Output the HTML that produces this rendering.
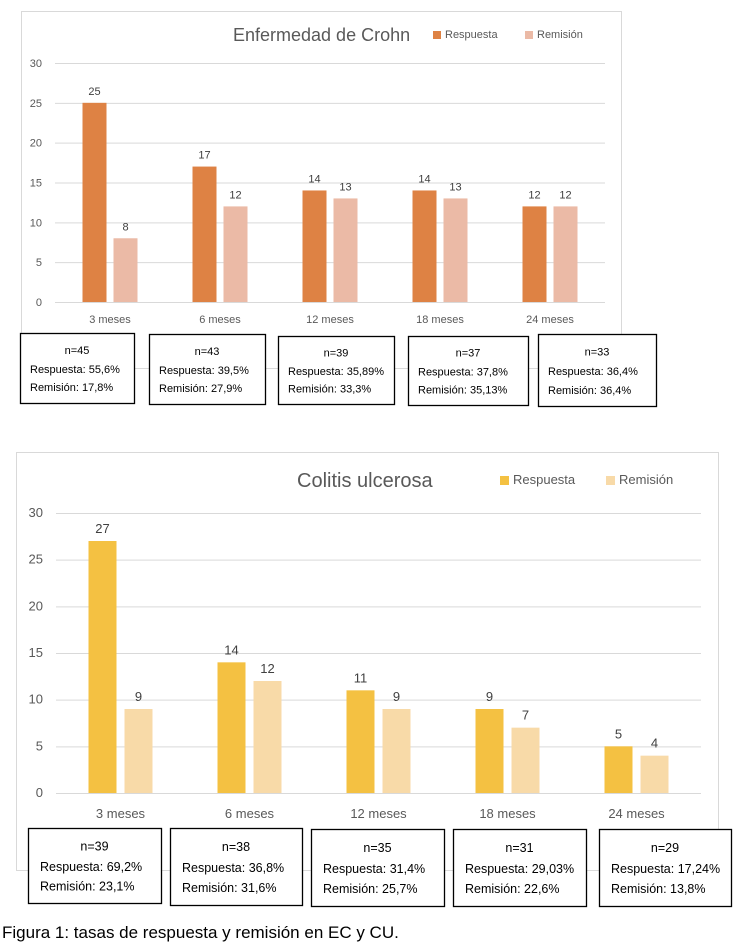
<!DOCTYPE html>
<html><head><meta charset="utf-8">
<style>
html,body{margin:0;padding:0;background:#fff;}
body{width:750px;height:944px;position:relative;overflow:hidden;font-family:"Liberation Sans",sans-serif;}
svg{position:absolute;left:0;top:0;}
</style></head>
<body>
<svg id="fig" width="750" height="944" viewBox="0 0 750 944"></svg>
<script>
const categories = ["3 meses","6 meses","12 meses","18 meses","24 meses"];
const ecRespuesta = [25,17,14,14,12];
const ecRemision = [8,12,13,13,12];
const cuRespuesta = [27,14,11,9,5];
const cuRemision = [9,12,9,7,4];
const yTicks = [0,5,10,15,20,25,30];
const ecBoxN = ["n=45","n=43","n=39","n=37","n=33"];
const ecBoxResp = ["Respuesta: 55,6%","Respuesta: 39,5%","Respuesta: 35,89%","Respuesta: 37,8%","Respuesta: 36,4%"];
const ecBoxRem = ["Remisión: 17,8%","Remisión: 27,9%","Remisión: 33,3%","Remisión: 35,13%","Remisión: 36,4%"];
const cuBoxN = ["n=39","n=38","n=35","n=31","n=29"];
const cuBoxResp = ["Respuesta: 69,2%","Respuesta: 36,8%","Respuesta: 31,4%","Respuesta: 29,03%","Respuesta: 17,24%"];
const cuBoxRem = ["Remisión: 23,1%","Remisión: 31,6%","Remisión: 25,7%","Remisión: 22,6%","Remisión: 13,8%"];

const NS="http://www.w3.org/2000/svg";
const svg=document.getElementById('fig');
function mk(tag,attrs,parent){const e=document.createElementNS(NS,tag);for(const k in attrs)e.setAttribute(k,attrs[k]);(parent||svg).appendChild(e);return e;}
function txt(s,attrs,parent){const e=mk('text',attrs,parent);e.textContent=s;return e;}

function chart(cfg){
  const g=mk('g',{});
  
  
  const fr=mk('rect',{x:cfg.frame[0]+.5,y:cfg.frame[1]+.5,width:cfg.frame[2],height:cfg.frame[3],fill:'#fff',stroke:'#d9d9d9','stroke-width':1},g);
  
  
  const y=v=>cfg.y0+(cfg.y30-cfg.y0)*v/30;
  const band=(cfg.x1-cfg.x0)/categories.length;
  const xc=i=>cfg.x0+band*(i+0.5);
  yTicks.forEach(t=>{
    const l=mk('line',{x1:cfg.x0,x2:cfg.x1,y1:y(t)+.5,y2:y(t)+.5,stroke:'#d9d9d9','stroke-width':1},g);
    
    
    const tl=txt(String(t),{x:cfg.tickX,y:y(t)+4,'text-anchor':'end','font-size':cfg.fs,fill:'#595959'},g);
    
    
  });
  categories.forEach((c,i)=>{
    const vals=[cfg.resp[i],cfg.rem[i]];
    const cols=[cfg.c1,cfg.c2];
    vals.forEach((v,j)=>{
      const bx=j===0? xc(i)-cfg.gap/2-cfg.bw : xc(i)+cfg.gap/2;
      const b=mk('rect',{x:bx,y:y(v),width:cfg.bw,height:y(0)-y(v),fill:cols[j]},g);
      
      
      const lb=txt(String(v),{x:bx+cfg.bw/2,y:y(v)-8,'text-anchor':'middle','font-size':cfg.fs,fill:'#404040'},g);
      
      
    });
    const cl=txt(c,{x:xc(i),y:cfg.catY,'text-anchor':'middle','font-size':cfg.fs,fill:'#595959'},g);
    
    
  });
  const t=txt(cfg.title,{x:cfg.titleX,y:cfg.titleY,'font-size':cfg.tfs,fill:'#595959'},g);
  
  
  [[cfg.lg1,'Respuesta',cfg.c1],[cfg.lg2,'Remisión',cfg.c2]].forEach(([lx,s,c],k)=>{
    const sq=mk('rect',{x:lx,y:cfg.lgY-cfg.sq+1,width:cfg.sq,height:cfg.sq,fill:c},g);
    
    
    const lt=txt(s,{x:lx+cfg.sq+4,y:cfg.lgY,'font-size':cfg.fs,fill:'#595959'},g);
    
    
  });
  cfg.boxes.forEach((bx,i)=>{
    const r=mk('rect',{x:bx[0]+.5,y:bx[1]+.5,width:bx[2]-bx[0],height:bx[3]-bx[1],fill:'#fff',stroke:'#000','stroke-width':1.3},g);
    
    
    const h=bx[3]-bx[1];
    const a=txt(cfg.bn[i],{x:(bx[0]+bx[2])/2,y:bx[1]+h*0.3,'text-anchor':'middle','font-size':cfg.bfs,fill:'#000'},g);
    
    
    const b=txt(cfg.br[i],{x:bx[0]+cfg.bpad,y:bx[1]+h*0.57,'font-size':cfg.bfs,fill:'#000'},g);
    
    
    const c=txt(cfg.bm[i],{x:bx[0]+cfg.bpad,y:bx[1]+h*0.83,'font-size':cfg.bfs,fill:'#000'},g);
    
    
  });
}

chart({name:'chart-crohn',frame:[21,11,600,357],x0:55,x1:605,y0:302,y30:63,bw:24,gap:7,
  c1:'#DE8244',c2:'#EBBAA6',resp:ecRespuesta,rem:ecRemision,fs:11,tickX:42,catY:323,
  title:'Enfermedad de Crohn',titleX:233,titleY:41,tfs:18,lg1:433,lg2:525,lgY:38,sq:8,
  boxes:[[20,333,134,403],[149,334,265,404],[278,336,394,404],[408,336,528,405],[538,334,656,406]],
  bn:ecBoxN,br:ecBoxResp,bm:ecBoxRem,bfs:11,bpad:10});
chart({name:'chart-colitis',frame:[16,452,702,418],x0:56,x1:701,y0:793,y30:513,bw:28,gap:8,
  c1:'#F4C142',c2:'#F8DAA8',resp:cuRespuesta,rem:cuRemision,fs:13,tickX:43,catY:818,
  title:'Colitis ulcerosa',titleX:297,titleY:487,tfs:20,lg1:500,lg2:606,lgY:484,sq:9,
  boxes:[[28,828,161,903],[170,828,302,905],[311,829,444,906],[453,829,586,906],[599,829,731,906]],
  bn:cuBoxN,br:cuBoxResp,bm:cuBoxRem,bfs:12.5,bpad:12});

const cap=txt('Figura 1: tasas de respuesta y remisión en EC y CU.',{x:2,y:938,'font-size':17,fill:'#000'});


</script>
</body></html>
